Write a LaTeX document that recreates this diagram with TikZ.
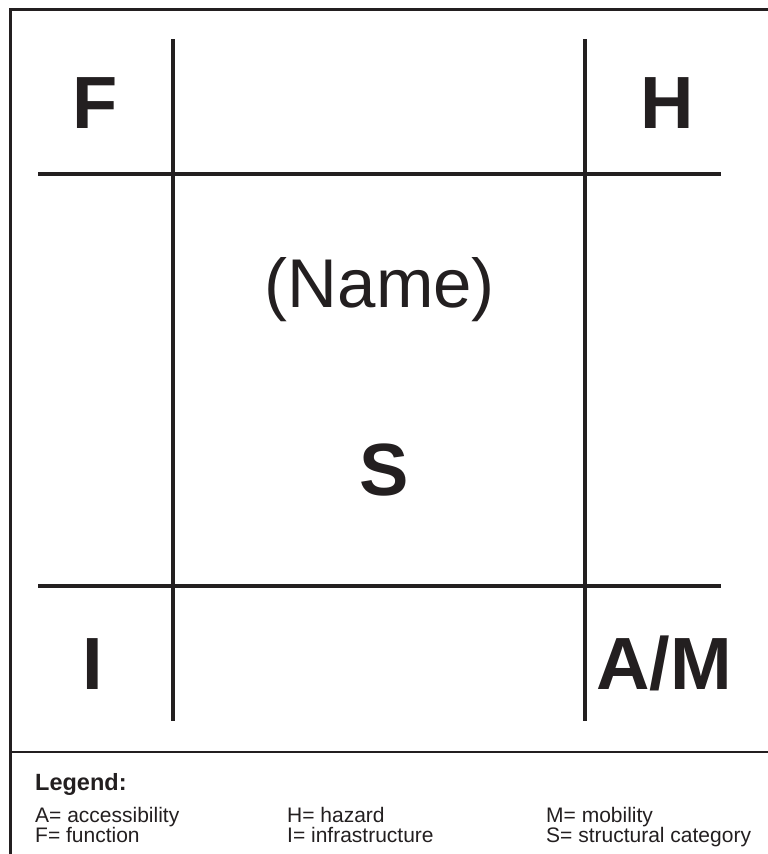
\documentclass[tikz,border=0pt]{standalone}
\usepackage{fontspec}
\setmainfont{Liberation Sans}
\definecolor{ink}{HTML}{231F20}
\newcommand{\bigletter}{\fontsize{74}{80}\selectfont\bfseries}
\newcommand{\legendtext}{\fontsize{21}{24}\selectfont}

\begin{document}
\begin{tikzpicture}[x=1pt,y=-1pt,
  grid/.style={ink, line width=4.5pt},
  frame/.style={ink, line width=3pt},
  corner/.style={ink, font=\bigletter, inner sep=0pt, anchor=base},
  entry/.style={ink, font=\legendtext, inner sep=0pt, anchor=base west}]
\useasboundingbox (0,0) rectangle (768,854);
% outer frame and legend separator
\draw[frame] (768,9.5) -- (10,9.5) -- (10,854);
\draw[ink, line width=2.5pt] (10,752) -- (768,752);
% grid
\draw[grid] (173,39) -- (173,721);
\draw[grid] (585,39) -- (585,721);
\draw[grid] (38,174) -- (721,174);
\draw[grid] (38,586) -- (721,586);
% labels
\node[corner] (f) at (95,128) {F};
\node[corner] (h) at (667,128) {H};
\node[corner] (i) at (93,689) {I};
\node[corner] (am) at (664,689) {A/M};
\node[ink, font=\fontsize{69}{76}\selectfont, inner sep=0pt, anchor=base] (name) at (380,307) {(Name)};
\node[corner] (s) at (384,495) {S};
% legend
\node[entry, font=\fontsize{23.5}{26}\selectfont\bfseries] (legend) at (35,790) {Legend:};
\node[entry] (la) at (35,822) {A= accessibility};
\node[entry] (lf) at (35,842) {F= function};
\node[entry] (lh) at (287,822) {H= hazard};
\node[entry] (li) at (287,842) {I= infrastructure};
\node[entry] (lm) at (546,822) {M= mobility};
\node[entry] (ls) at (546,842) {S= structural category};
\end{tikzpicture}
\end{document}
